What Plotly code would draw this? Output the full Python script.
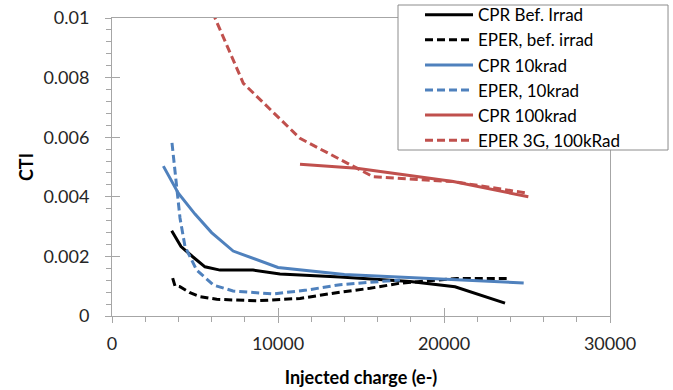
import plotly.graph_objects as go

# ---- data ----
cpr_bef_x = [3596, 4157, 4880, 5602, 6506, 8494, 10120, 13735, 17952, 20663, 23675]
cpr_bef_y = [0.00286, 0.00233, 0.00198, 0.00165, 0.00154, 0.00154, 0.00141, 0.00131, 0.00116, 0.00098, 0.00043]

eper_bef_x = [3655, 3795, 4096, 4699, 5301, 6307, 8717, 10120, 11325, 13735, 15542, 17349, 18735, 20765, 23775]
eper_bef_y = [0.00127, 0.00101, 0.00098, 0.00078, 0.00065, 0.00056, 0.00051, 0.00056, 0.00059, 0.00080, 0.00093, 0.00110, 0.00117, 0.00126, 0.00126]

cpr_10_x = [3094, 3995, 5000, 6000, 7300, 10000, 14000, 20000, 24800]
cpr_10_y = [0.00503, 0.00412, 0.00342, 0.00280, 0.00218, 0.00163, 0.00139, 0.00124, 0.00111]

eper_10_x = [3614, 3897, 4096, 4398, 5102, 6103, 7289, 9699, 11729, 13735, 17349]
eper_10_y = [0.00581, 0.00434, 0.00329, 0.00233, 0.00154, 0.00104, 0.00084, 0.00074, 0.00087, 0.00105, 0.00121]

cpr_100_x = [11325, 14740, 20560, 25080]
cpr_100_y = [0.00509, 0.00496, 0.00451, 0.00400]

eper_100_x = [6050, 7910, 11325, 15741, 20560, 25060]
eper_100_y = [0.01020, 0.00781, 0.00596, 0.00467, 0.00451, 0.00412]

series_names = ["CPR Bef. Irrad", "EPER, bef. irrad", "CPR 10krad",
                "EPER, 10krad", "CPR 100krad", "EPER 3G, 100kRad"]

x_tickvals = [0, 10000, 20000, 30000]
x_ticktext = ["0", "10000", "20000", "30000"]
y_tickvals = [0, 0.002, 0.004, 0.006, 0.008, 0.01]
y_ticktext = ["0", "0.002", "0.004", "0.006", "0.008", "0.01"]

x_title = "Injected charge (e-)"
y_title = "CTI"

# ---- styles ----
BLACK = "#000000"
BLUE = "#4F81BD"
RED = "#C0504D"
DASH = "8px,4px"
LW = 3
AXIS_COLOR = "#A6A6A6"
FONT = "Lato"

series = [
    (cpr_bef_x, cpr_bef_y, BLACK, "solid"),
    (eper_bef_x, eper_bef_y, BLACK, DASH),
    (cpr_10_x, cpr_10_y, BLUE, "solid"),
    (eper_10_x, eper_10_y, BLUE, DASH),
    (cpr_100_x, cpr_100_y, RED, "solid"),
    (eper_100_x, eper_100_y, RED, DASH),
]

fig = go.Figure()
for (xs, ys, col, dash), name in zip(series, series_names):
    fig.add_trace(go.Scatter(x=xs, y=ys, mode="lines", name=name,
                             line=dict(color=col, width=LW, dash=dash)))

# empty helper trace so the overlay axes (inside half of the cross ticks) are drawn
fig.add_trace(go.Scatter(x=[], y=[], xaxis="x2", yaxis="y2", showlegend=False,
                         hoverinfo="skip"))

common_axis = dict(showgrid=False, zeroline=False, linecolor=AXIS_COLOR, linewidth=1,
                   tickcolor=AXIS_COLOR, tickwidth=1, mirror=True, showline=True,
                   tickfont=dict(family=FONT, size=18, color="#262626"))

# legend frame (white box with grey border, like the reference)
fig.add_shape(type="rect", xref="paper", yref="paper",
              x0=0.5743, x1=1.1165, y0=0.557, y1=1.0436,
              fillcolor="white", line=dict(color="#8C8C8C", width=1), layer="above")

fig.update_layout(
    width=673, height=390,
    margin=dict(l=112, r=63, t=18, b=74, autoexpand=False),
    paper_bgcolor="white", plot_bgcolor="white",
    font=dict(family=FONT, color="#000000"),
    xaxis=dict(range=[0, 30000], tickvals=x_tickvals, ticktext=x_ticktext,
               ticks="outside", ticklen=6,
               minor=dict(dtick=2000, ticks="outside", ticklen=5, tickcolor=AXIS_COLOR),
               title=dict(text="<b>" + x_title + "</b>", font=dict(family=FONT, size=18),
                          standoff=18),
               ticklabelstandoff=5,
               **common_axis),
    yaxis=dict(range=[0, 0.01], tickvals=y_tickvals, ticktext=y_ticktext,
               ticks="outside", ticklen=6,
               minor=dict(dtick=0.0004, ticks="outside", ticklen=5, tickcolor=AXIS_COLOR),
               title=dict(text="<b>" + y_title + "</b>", font=dict(family=FONT, size=18),
                          standoff=5),
               ticklabelstandoff=12,
               **common_axis),
    xaxis2=dict(range=[0, 30000], overlaying="x", anchor="y2", side="bottom",
                tickvals=x_tickvals, ticks="inside", ticklen=8, tickcolor=AXIS_COLOR,
                showticklabels=False, showgrid=False, zeroline=False, showline=False),
    yaxis2=dict(range=[0, 0.01], overlaying="y", anchor="x2", side="left",
                tickvals=y_tickvals, ticks="inside", ticklen=8, tickcolor=AXIS_COLOR,
                showticklabels=False, showgrid=False, zeroline=False, showline=False),
    legend=dict(x=0.6185, y=1.070, xanchor="left", yanchor="top",
                bgcolor="rgba(0,0,0,0)", borderwidth=0,
                font=dict(family=FONT, size=17, color="#000000"),
                itemwidth=48, tracegroupgap=0),
    showlegend=True,
)

fig.write_html("out.html")
